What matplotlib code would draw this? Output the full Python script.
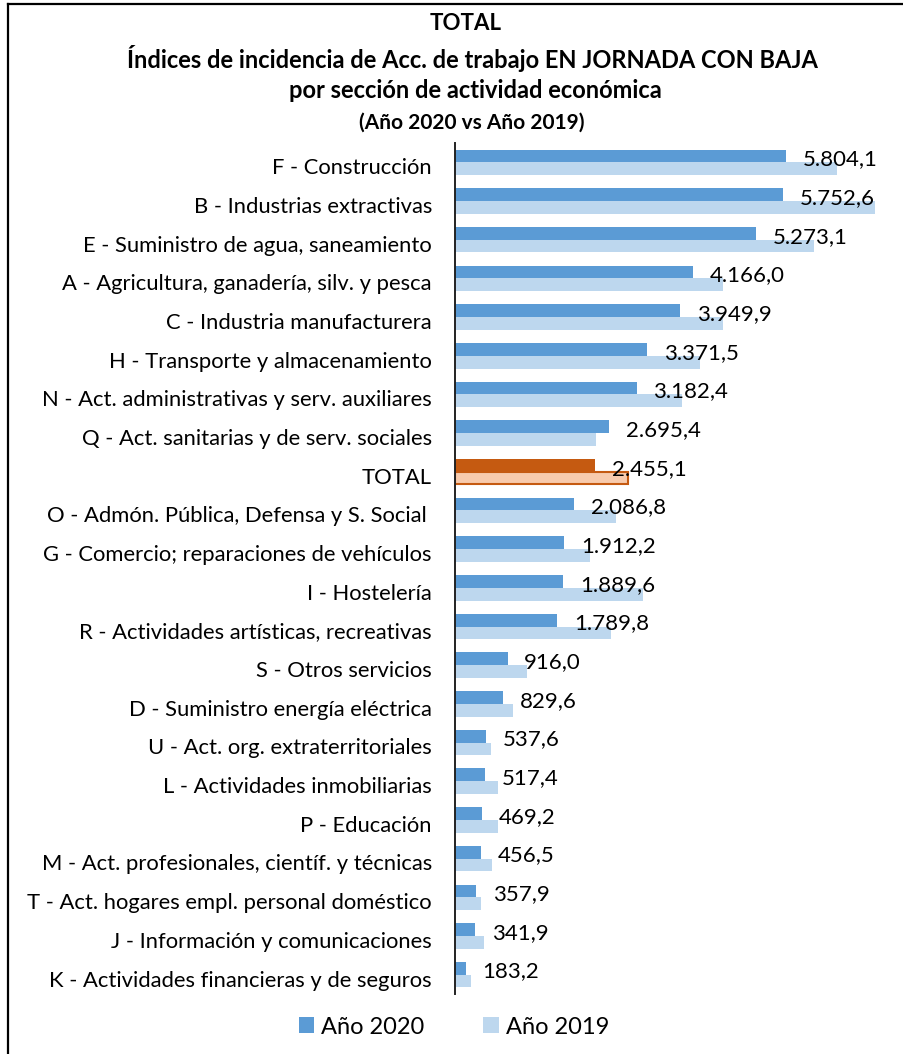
import matplotlib
matplotlib.use('Agg')
import matplotlib.pyplot as plt
from matplotlib.patches import Patch
from matplotlib.lines import Line2D

W, H = 904, 1054

categories = [
    'F - Construcción',
    'B - Industrias extractivas',
    'E - Suministro de agua, saneamiento',
    'A - Agricultura, ganadería, silv. y pesca',
    'C - Industria manufacturera',
    'H - Transporte y almacenamiento',
    'N - Act. administrativas y serv. auxiliares',
    'Q - Act. sanitarias y de serv. sociales',
    'TOTAL',
    'O - Admón. Pública, Defensa y S. Social ',
    'G - Comercio; reparaciones de vehículos',
    'I - Hostelería',
    'R - Actividades artísticas, recreativas',
    'S - Otros servicios',
    'D - Suministro energía eléctrica',
    'U - Act. org. extraterritoriales',
    'L - Actividades inmobiliarias',
    'P - Educación',
    'M - Act. profesionales, científ. y técnicas',
    'T - Act. hogares empl. personal doméstico',
    'J - Información y comunicaciones',
    'K - Actividades financieras y de seguros',
]
v2020 = [5804.1, 5752.6, 5273.1, 4166.0, 3949.9, 3371.5, 3182.4, 2695.4,
         2455.1, 2086.8, 1912.2, 1889.6, 1789.8, 916.0, 829.6, 537.6,
         517.4, 469.2, 456.5, 357.9, 341.9, 183.2]
# 2019 series has no labels in the source
v2019 = [6695, 7367, 6296, 4693, 4703, 4294, 3978, 2467,
         3035, 2813, 2362, 3299, 2731, 1256, 1004, 629,
         741, 752, 641, 448, 506, 267]

C_2020 = '#5b9bd5'
C_2019 = '#bdd7ee'
C_TOT = '#c55a11'
C_TOT_LIGHT = '#f8cbad'

plt.rcParams['font.family'] = ['Lato', 'DejaVu Sans']

fig = plt.figure(figsize=(W / 100, H / 100), dpi=100, facecolor='white')


def fx(px):
    return px / W


def fy(py):
    return 1 - py / H


# axes placed in pixel terms: left 455.5, right ~882.6, top 143, bottom 994
ax = fig.add_axes([fx(455.5), fy(994), fx(882.6) - fx(455.5), fy(143) - fy(994)])
ax.set_xlim(0, 7500)
n = len(categories)
ax.set_ylim(n - 0.5, -0.5)

bh = 0.33
for i, (a, b) in enumerate(zip(v2020, v2019)):
    if categories[i] == 'TOTAL':
        ax.barh(i - bh / 2, a, height=bh, color=C_TOT, linewidth=0)
        ax.barh(i + bh / 2, b, height=bh * 0.92, color=C_TOT_LIGHT,
                edgecolor=C_TOT, linewidth=1.5)
    else:
        ax.barh(i - bh / 2, a, height=bh, color=C_2020, linewidth=0)
        ax.barh(i + bh / 2, b, height=bh, color=C_2019, linewidth=0)
    lbl = f'{a:,.1f}'.replace(',', ' ').replace('.', ',').replace(' ', '.')
    ax.annotate(lbl, xy=(a, i - 0.08), xytext=(12, 0), textcoords='offset points',
                ha='left', va='center', fontsize=16, color='black')

ax.set_yticks([i + 0.1 for i in range(n)])
ax.set_yticklabels(categories, fontsize=15.8, color='black')
ax.tick_params(axis='y', length=0, pad=17)
ax.set_xticks([])
for s in ['top', 'right', 'bottom']:
    ax.spines[s].set_visible(False)
ax.spines['left'].set_linewidth(1.4)
ax.spines['left'].set_color('#222222')

# titles
fig.text(fx(466), fy(23), 'TOTAL', ha='center', va='center',
         fontsize=16, fontweight='bold')
fig.text(fx(472), fy(59), 'Índices de incidencia de Acc. de trabajo EN JORNADA CON BAJA',
         ha='center', va='center', fontsize=17, fontweight='bold')
fig.text(fx(475), fy(91), 'por sección de actividad económica', ha='center',
         va='center', fontsize=17, fontweight='bold')
fig.text(fx(472), fy(123), '(Año 2020 vs Año 2019)', ha='center', va='center',
         fontsize=15, fontweight='bold')

handles = [Patch(facecolor=C_2020, edgecolor='none', label='Año 2020'),
           Patch(facecolor=C_2019, edgecolor='none', label='Año 2019')]
fig.legend(handles=handles, loc='center', bbox_to_anchor=(fx(454), fy(1027)),
           ncol=2, frameon=False, fontsize=17, handlelength=0.65,
           handleheight=0.65, handletextpad=0.3, columnspacing=2.5)

# outer frame (left and top edges only are visible in the crop)
fig.add_artist(Line2D([fx(8), fx(8)], [fy(4), 0], color='black', lw=1.6,
                      transform=fig.transFigure))
fig.add_artist(Line2D([fx(8), 1], [fy(4), fy(4)], color='black', lw=1.6,
                      transform=fig.transFigure))

fig.savefig('out.png', dpi=100, facecolor='white')
